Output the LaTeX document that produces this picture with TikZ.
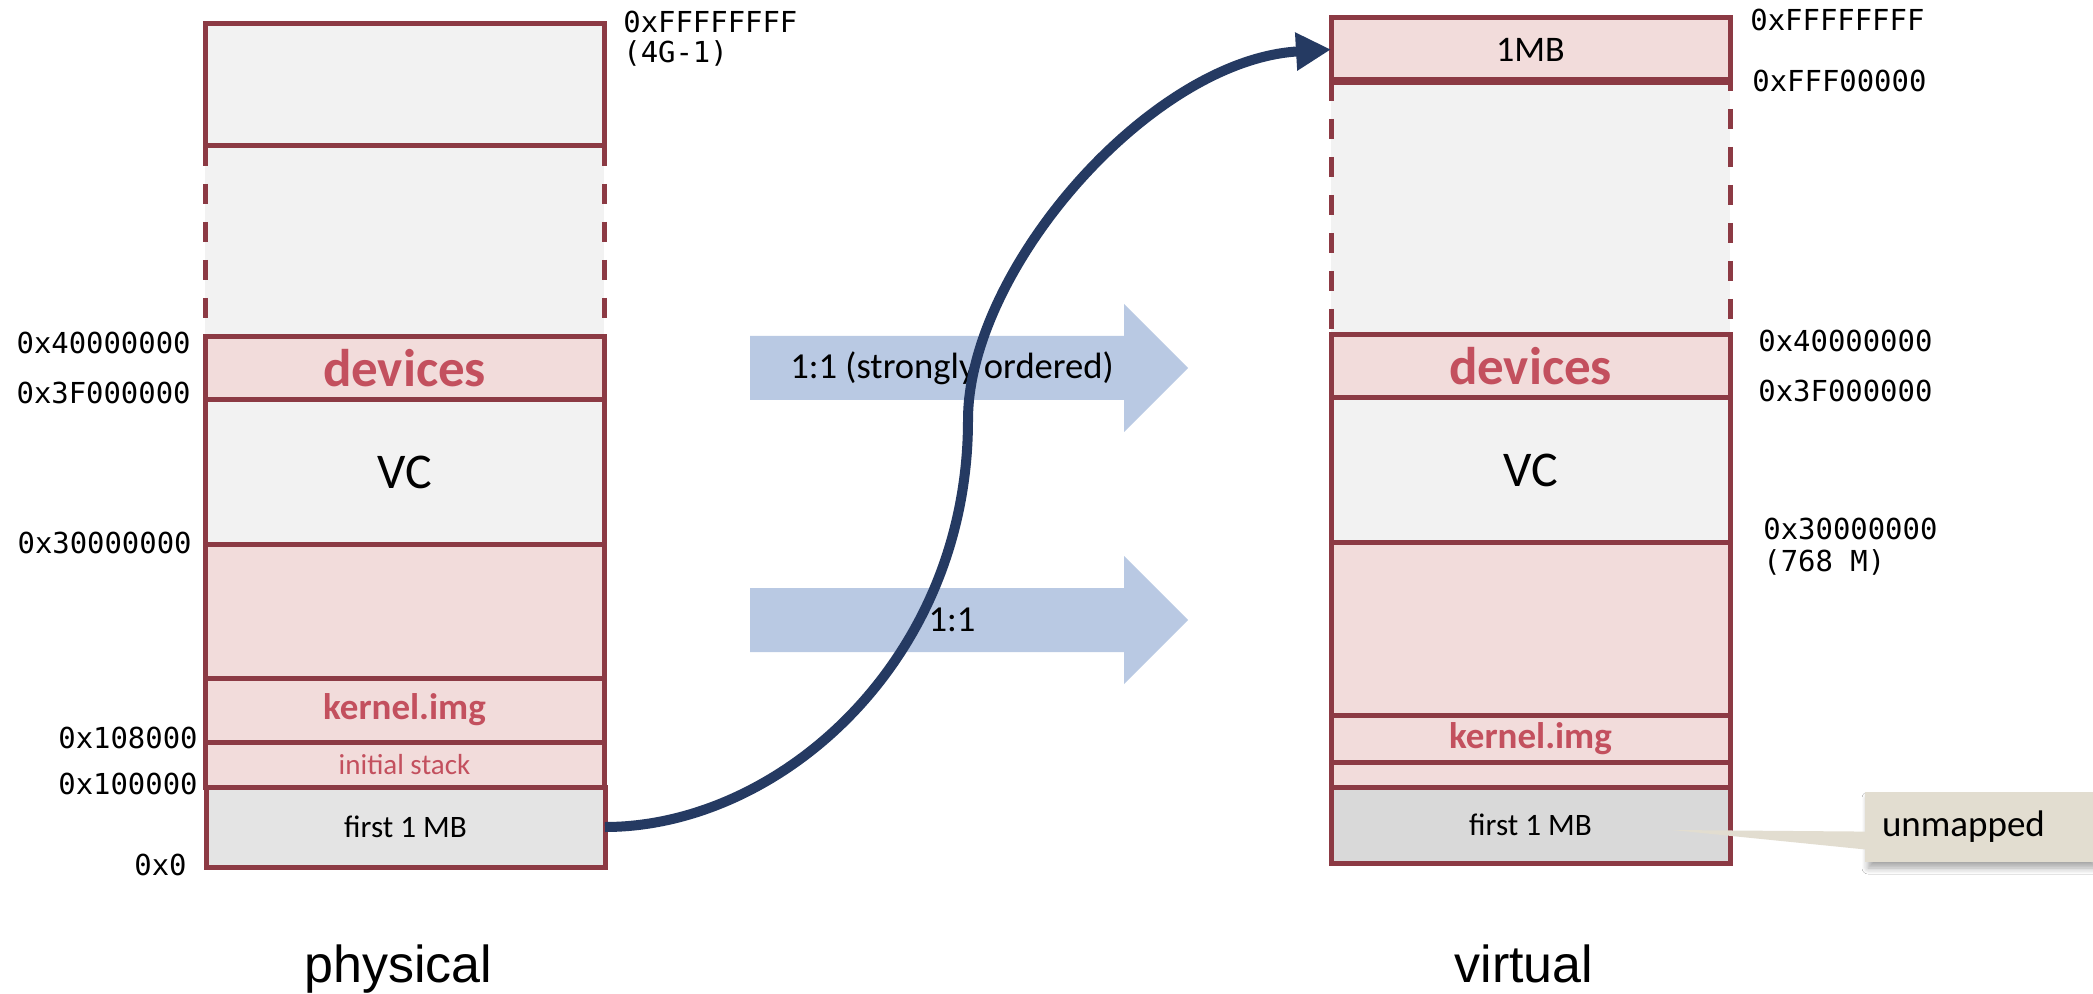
\documentclass[tikz,border=0pt]{standalone}
\usepackage{fontspec}
\setmainfont{Carlito}
\newfontfamily\addrfont{DejaVu Sans Mono}
\newfontfamily\captionfont{Liberation Sans}
\usetikzlibrary{arrows.meta,shadows.blur,calc}

\definecolor{frame}{HTML}{8C3A44}
\definecolor{pinkfill}{HTML}{F2DCDB}
\definecolor{greyfill}{HTML}{F2F2F2}
\definecolor{lowfillL}{HTML}{E4E4E4}
\definecolor{lowfillR}{HTML}{D9D9D9}
\definecolor{redtext}{HTML}{C3505E}
\definecolor{maparrow}{HTML}{B9C9E3}
\definecolor{navy}{HTML}{253A62}
\definecolor{notefill}{HTML}{E2DDD0}

\begin{document}
\begin{tikzpicture}[x=0.5pt,y=-0.5pt,
  region/.style={draw=frame, line width=2.5pt, inner sep=0pt, outer sep=0pt,
                 minimum width=199.5pt},
  gapfill/.style={fill=greyfill, inner sep=0pt, outer sep=0pt, minimum width=199.5pt},
  gapside/.style={draw=frame, line width=2.5pt, dash pattern=on 10pt off 9pt},
  addr/.style={font=\addrfont\fontsize{14.45}{17}\selectfont, inner sep=0pt},
  bigred/.style={text=redtext, font=\bfseries\fontsize{26.5}{30}\selectfont},
  kernred/.style={text=redtext, font=\bfseries\fontsize{18.5}{22}\selectfont},
  stacktext/.style={text=redtext, font=\fontsize{14.5}{17}\selectfont},
  vctext/.style={font=\fontsize{25}{30}\selectfont},
  lowtext/.style={font=\fontsize{15.6}{18}\selectfont},
  mbtext/.style={font=\fontsize{18}{22}\selectfont},
  maplabel/.style={font=\fontsize{18.3}{22}\selectfont, inner sep=0pt},
  caption/.style={font=\captionfont\fontsize{26}{30}\selectfont, inner sep=0pt, anchor=base},
  conn/.style={draw=navy, line width=5pt, -{Triangle[length=17.5pt,width=18pt]}},
  note/.style={fill=notefill, inner xsep=8.5pt, inner ysep=0pt, text width=97pt,
               minimum height=35pt, align=left, font=\fontsize{18.5}{22}\selectfont,
               blur shadow={shadow xshift=1.5pt, shadow yshift=-3pt, shadow opacity=35,
                            shadow blur steps=6, shadow blur radius=3pt}},
]
\useasboundingbox (0,0) rectangle (2093,994);
\fill[white] (0,0) rectangle (2093,994);

% ---------------- physical address space ----------------
\node[gapfill, minimum height=95.5pt] (gapL) at (404.5,241.5) {};
\draw[gapside] (gapL.north west) -- (gapL.south west);
\draw[gapside] (gapL.north east) -- (gapL.south east);

\node[region, fill=greyfill, minimum height=61pt]   (topL)   at (404.5,85)    {};
\node[region, fill=pinkfill, minimum height=31.5pt, bigred] (devL) at (404.5,368.5) {devices};
\node[region, fill=greyfill, minimum height=72pt, vctext]   (vcL)  at (404.5,472)   {VC};
\node[region, fill=pinkfill, minimum height=67pt]   (freeL)  at (404.5,611)   {};
\node[region, fill=pinkfill, minimum height=32pt, kernred]  (kernL) at (404.5,710) {kernel.img};
\node[region, fill=pinkfill, minimum height=22.5pt, stacktext] (stackL) at (404.5,764.5) {initial stack};
\node[region, fill=lowfillL, minimum height=40pt, lowtext]  (firstL) at (405.5,827) {first 1 MB};

\node[addr, anchor=west] (pTop)  at (623,22)  {0xFFFFFFFF};
\node[addr, anchor=west] (pTop2) at (623,53)  {(4G-1)};
\node[addr, anchor=east] (p40)   at (191,343) {0x40000000};
\node[addr, anchor=east] (p3F)   at (191,393) {0x3F000000};
\node[addr, anchor=east] (p30)   at (192,543) {0x30000000};
\node[addr, anchor=east] (p108)  at (198,738) {0x108000};
\node[addr, anchor=east] (p100)  at (198,784) {0x100000};
\node[addr, anchor=east] (p0)    at (187,865) {0x0};

\node[caption] (phys) at (398.5,982) {physical};

% ---------------- virtual address space ----------------
\node[gapfill, minimum height=127pt] (gapR) at (1530.5,208) {};
\draw[gapside] (gapR.north west) -- (gapR.south west);
\draw[gapside, dash phase=5pt] (gapR.north east) -- (gapR.south east);

\node[region, fill=pinkfill, minimum height=31.5pt, mbtext] (mbR) at (1530.5,49.5) {1MB};
\draw[frame, line width=4pt] (mbR.south west) -- (mbR.south east);
\node[region, fill=pinkfill, minimum height=31.5pt, bigred] (devR) at (1530.5,366.5) {devices};
\node[region, fill=greyfill, minimum height=72pt, vctext]   (vcR)  at (1530.5,470)   {VC};
\node[region, fill=pinkfill, minimum height=86.5pt]  (freeR)  at (1530.5,628.5) {};
\node[region, fill=pinkfill, minimum height=23.5pt, kernred] (kernR) at (1530.5,738.5) {kernel.img};
\node[region, fill=pinkfill, minimum height=12.5pt]  (stackR) at (1530.5,774.5) {};
\node[region, fill=lowfillR, minimum height=38pt, lowtext]  (firstR) at (1530.5,825) {first 1 MB};

\node[addr, anchor=west] (vTop)  at (1750,20)  {0xFFFFFFFF};
\node[addr, anchor=west] (vFFF)  at (1752,81)  {0xFFF00000};
\node[addr, anchor=west] (v40)   at (1758,341) {0x40000000};
\node[addr, anchor=west] (v3F)   at (1758,391) {0x3F000000};
\node[addr, anchor=west] (v30)   at (1763,529) {0x30000000};
\node[addr, anchor=west] (v768)  at (1763,562) {(768 M)};

\node[caption] (virt) at (1524,982) {virtual};

% ---------------- mapping arrows ----------------
\fill[maparrow] (750,336) -- (1124,336) -- (1124,304) -- (1188,368)
                -- (1124,432) -- (1124,400) -- (750,400) -- cycle;
\node[maplabel] (mapHigh) at (952,368) {1:1 (strongly ordered)};
\fill[maparrow] (750,588) -- (1124,588) -- (1124,556) -- (1188,620)
                -- (1124,684) -- (1124,652) -- (750,652) -- cycle;
\node[maplabel] (mapLow) at (952,620) {1:1};

% first megabyte relocated to the top megabyte
\coordinate (bend) at (968,420);
\draw[conn] (firstL.east) .. controls (780,827) and (968,660) .. (bend)
            .. controls (968,270) and (1150,60) .. (mbR.west);

% ---------------- note ----------------
\node[note] (unm) at (1979,827) {unmapped};
\coordinate (notetip) at (1672,830);
\fill[notefill] (notetip) -- ($(unm.north west)+(2,40)$) -- ($(unm.north west)+(2,58)$) -- cycle;
\end{tikzpicture}
\end{document}
